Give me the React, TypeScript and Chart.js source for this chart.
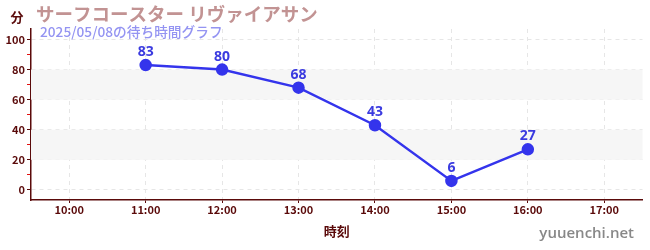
import React, { useEffect, useRef } from "react";
import { Chart, registerables } from "chart.js";

Chart.register(...registerables);

const categories = ["10:00", "11:00", "12:00", "13:00", "14:00", "15:00", "16:00", "17:00"];
const waitTimes: (number | null)[] = [null, 83, 80, 68, 43, 6, 27, null];
const yTickValues = [0, 10, 20, 30, 40, 50, 60, 70, 80, 90, 100];
const bandRanges = [[20, 40], [60, 80]];
const titleText = "サーフコースター リヴァイアサン";
const subtitleText = "2025/05/08の待ち時間グラフ";
const yUnitText = "分";
const xTitleText = "時刻";
const watermarkText = "yuuenchi.net";

const FONT = "'Noto Sans CJK JP', 'Noto Sans', sans-serif";
const AXIS_COLOR = "#5a0a0a";
const LINE_COLOR = "#3434ec";

const decorPlugin = {
  id: "decor",
  beforeDatasetsDraw(chart: any) {
    const { ctx, chartArea, scales } = chart;
    ctx.save();
    ctx.fillStyle = "#f6f6f6";
    for (const [a, b] of bandRanges) {
      const y1 = scales.y.getPixelForValue(b);
      const y2 = scales.y.getPixelForValue(a);
      ctx.fillRect(chartArea.left, y1, chartArea.right - chartArea.left, y2 - y1);
    }
    ctx.restore();
  },
  afterDraw(chart: any) {
    const { ctx } = chart;
    const meta = chart.getDatasetMeta(0);
    ctx.save();
    ctx.fillStyle = "#3b3be0";
    ctx.font = `bold 14px 'Noto Sans', sans-serif`;
    ctx.textAlign = "center";
    ctx.textBaseline = "alphabetic";
    meta.data.forEach((pt: any, i: number) => {
      const v = waitTimes[i];
      if (v === null || v === undefined) return;
      ctx.fillText(String(v), pt.x, pt.y - 9);
    });
    ctx.textAlign = "left";
    ctx.textBaseline = "middle";
    ctx.fillStyle = "#c29393";
    ctx.font = `bold 18.5px ${FONT}`;
    ctx.fillText(titleText, 36, 14);
    ctx.fillStyle = "#9494f2";
    ctx.font = `500 13.7px ${FONT}`;
    ctx.fillText(subtitleText, 40, 32);
    ctx.fillStyle = AXIS_COLOR;
    ctx.font = `bold 13px ${FONT}`;
    ctx.textAlign = "center";
    ctx.fillText(yUnitText, 17, 17);
    ctx.fillStyle = "#888888";
    ctx.font = `600 15px 'Open Sans', 'Noto Sans', sans-serif`;
    ctx.textAlign = "right";
    ctx.textBaseline = "alphabetic";
    ctx.fillText(watermarkText, 634, 238);
    ctx.restore();
  },
};

export default function App() {
  const ref = useRef<HTMLCanvasElement>(null);
  useEffect(() => {
    if (!ref.current) return;
    const chart = new Chart(ref.current, {
      type: "line",
      data: {
        labels: categories,
        datasets: [
          {
            data: waitTimes,
            borderColor: LINE_COLOR,
            backgroundColor: LINE_COLOR,
            borderWidth: 2.5,
            pointRadius: 5,
            pointHoverRadius: 5,
            tension: 0,
          },
        ],
      },
      options: {
        animation: false,
        responsive: false,
        layout: { padding: { top: 29, right: 7, left: 0, bottom: 0 } },
        plugins: { legend: { display: false }, tooltip: { enabled: false }, title: { display: false } },
        scales: {
          x: {
            type: "category",
            offset: true,
            border: { color: AXIS_COLOR, width: 1.5, dash: [4, 4] },
            grid: {
              offset: false,
              color: "#e6e6e6",
              drawTicks: true,
              tickLength: 3,
              tickColor: AXIS_COLOR,
              tickBorderDash: [],
            } as any,
            ticks: {
              color: AXIS_COLOR,
              font: { family: FONT, size: 11, weight: "bold" },
              padding: 0,
              maxRotation: 0,
            },
            title: {
              display: true,
              text: xTitleText,
              color: AXIS_COLOR,
              font: { family: FONT, size: 13, weight: "bold" },
              padding: { top: 8, bottom: 11 },
            },
            afterFit(scale: any) {
              scale.height = 50;
            },
          },
          y: {
            min: -6.7,
            max: 107,
            border: { color: AXIS_COLOR, width: 1.5, dash: [4, 4] },
            grid: {
              color: (c: any) => (c.tick && c.tick.value % 20 === 0 ? "#e6e6e6" : "rgba(0,0,0,0)"),
              tickColor: (c: any) => (c.tick && c.tick.value % 20 === 0 ? AXIS_COLOR : "#e01010"),
              tickLength: 4,
              tickBorderDash: [],
            } as any,
            ticks: {
              color: AXIS_COLOR,
              font: { family: FONT, size: 11, weight: "bold" },
              padding: 2,
              callback: (v: any) => (Number(v) % 20 === 0 ? String(v) : ""),
            },
            afterBuildTicks(scale: any) {
              scale.ticks = yTickValues.map((v) => ({ value: v }));
            },
            afterFit(scale: any) {
              scale.width = 31;
            },
          },
        },
      },
      plugins: [decorPlugin],
    } as any);
    return () => chart.destroy();
  }, []);
  return (
    <div style={{ position: "fixed", left: 0, top: 0, width: 650, height: 250, background: "#fff" }}>
      <canvas ref={ref} width={650} height={250} />
    </div>
  );
}
